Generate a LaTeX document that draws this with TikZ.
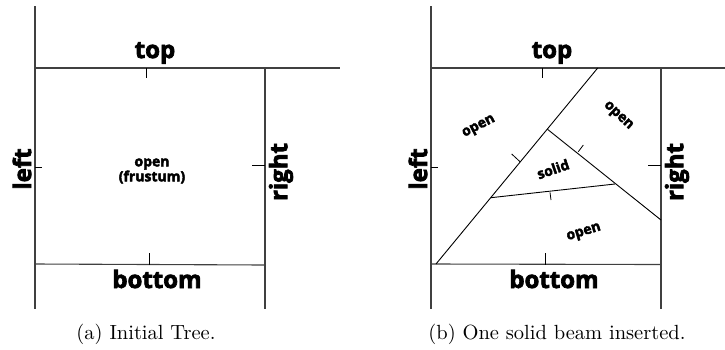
\documentclass[tikz,border=0pt]{standalone}
\usepackage{fontspec}
\newfontfamily\heavy{Open Sans}[BoldFeatures={FakeBold=3}]
\begin{document}
\begin{tikzpicture}[x=1pt,y=-1pt,
  frame/.style={line width=1.1pt, black!75},
  cut/.style={line width=0.9pt, black},
  tick/.style={line width=0.8pt, black},
  lbl/.style={font=\heavy\bfseries\fontsize{24}{24}\selectfont, inner sep=0},
  reg/.style={font=\heavy\bfseries\fontsize{14}{15}\selectfont, inner sep=0, align=center},
  captxt/.style={font=\rmfamily, scale=2.05, anchor=base, inner sep=0}]
\useasboundingbox (0,0) rectangle (725,349);
\fill[white] (0,0) rectangle (725,349);
% ---------- panel (a)
\coordinate (aL0) at (35,6);   \coordinate (aL1) at (35,309);
\coordinate (aT0) at (35,68);  \coordinate (aT1) at (340,68);
\coordinate (aR0) at (265,68); \coordinate (aR1) at (265,309);
\coordinate (aB0) at (35,264); \coordinate (aB1) at (265,265);
\draw[frame] (aL0) -- (aL1);
\draw[frame] (aT0) -- (aT1);
\draw[frame] (aR0) -- (aR1);
\draw[frame] (aB0) -- (aB1);
\draw[tick] (146,68) -- (146,78);
\draw[tick] (149,253) -- (149,264.5);
\draw[tick] (35,167) -- (42,167);
\draw[tick] (252,165) -- (265,165);
\node[lbl] (atop) at (155,53) {top};
\node[lbl] (abot) at (157,279) {bottom};
\node[lbl, rotate=90] (aleft) at (22,169) {left};
\node[lbl, rotate=90] (aright) at (281,172) {right};
\node[reg] (afr) at (152,171) {open\\(frustum)};
\node[captxt] (capa) at (146,339) {(a) Initial Tree.};
% ---------- panel (b)
\coordinate (bL0) at (431,6);   \coordinate (bL1) at (431,309);
\coordinate (bT0) at (431,68);  \coordinate (bT1) at (725,68);
\coordinate (bR0) at (661,68);  \coordinate (bR1) at (661,309);
\coordinate (bB0) at (431,264); \coordinate (bB1) at (661,264.5);
\draw[frame] (bL0) -- (bL1);
\draw[frame] (bT0) -- (bT1);
\draw[frame] (bR0) -- (bR1);
\draw[frame] (bB0) -- (bB1);
\draw[tick] (542,68) -- (542,78);
\draw[tick] (545,253) -- (545,264.5);
\draw[tick] (431,167) -- (438,167);
\draw[tick] (648,165) -- (661,165);
% cuts
\coordinate (D0) at (436,264);
\coordinate (D1) at (597.7,68);
\coordinate (A) at (547.5,129.3);
\coordinate (R) at (661,220);
\coordinate (B) at (490.8,197.7);
\coordinate (C) at (615,184);
\draw[cut] (D0) -- (D1);
\draw[cut] (A) -- (R);
\draw[cut] (B) -- (C);
\draw[tick] (520,161.7) -- (511.7,154);
\draw[tick] (578.3,151.7) -- (583.3,145);
\draw[tick] (550,192.3) -- (551,200);
\node[lbl] (btop) at (552,53) {top};
\node[lbl] (bbot) at (554,279) {bottom};
\node[lbl, rotate=90] (bleft) at (418,169) {left};
\node[lbl, rotate=90] (bright) at (677,172) {right};
\node[reg, rotate=27] (o1) at (479,127) {open};
\node[reg, rotate=-43] (o2) at (618,116) {open};
\node[reg, rotate=19] (so) at (553,169) {solid};
\node[reg, rotate=17] (o3) at (584,233) {open};
\node[captxt] (capb) at (557,339) {(b) One solid beam inserted.};
\end{tikzpicture}
\end{document}
